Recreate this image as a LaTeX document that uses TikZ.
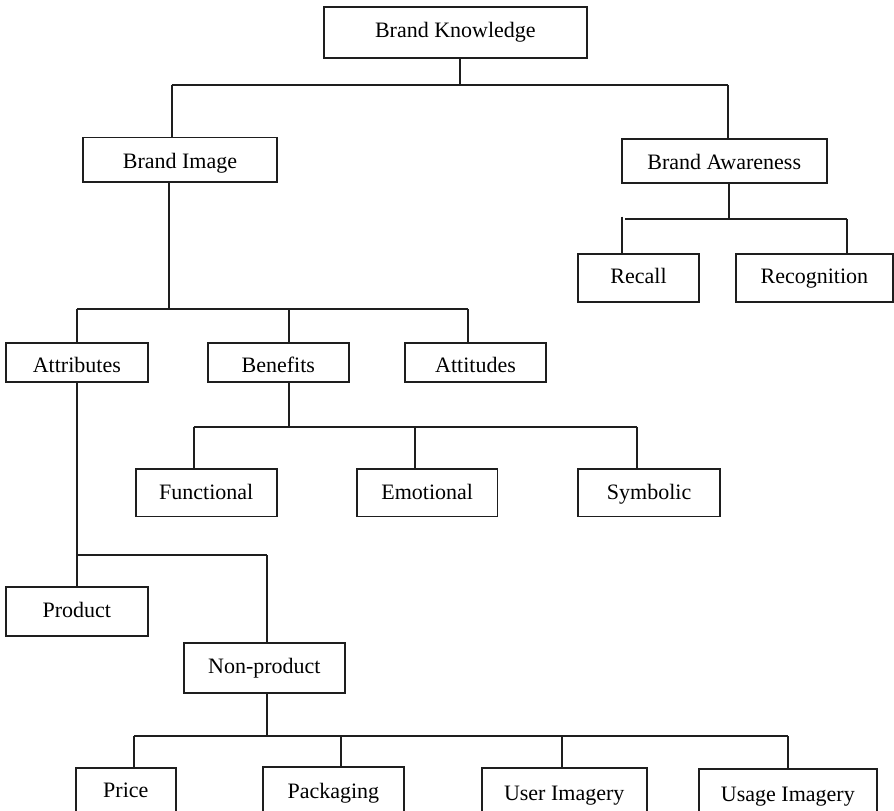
\documentclass[tikz,border=0pt]{standalone}
\usepackage{fontspec}
\setmainfont{Liberation Serif}
\definecolor{ink}{RGB}{30,30,30}
\tikzset{
  box/.style={draw=ink, line width=1.8pt, inner sep=0pt, fill=white,
    text=black, text depth=5pt,
    font=\fontsize{22}{26}\selectfont},
  link/.style={draw=ink, line width=1.8pt}
}
% name, x1, y1, x2, y2, text height, text
\newcommand\boxat[7]{%
  \node[box, text height=#6pt, minimum width={#4pt-#2pt}, minimum height={#5pt-#3pt}] (#1)
    at ({(#2+#4)/2},{(#3+#5)/2}) {#7};}
\begin{document}
\begin{tikzpicture}[x=1pt,y=-1pt]
\useasboundingbox (0,0) rectangle (894,811);
\clip (0,0) rectangle (894,811);
\fill[white] (0,0) rectangle (894,811);

% boxes
\boxat{bk}{324}{7}{586.7}{58}{14}{Brand Knowledge}
\boxat{bi}{83.3}{137.5}{276.7}{182.3}{21.8}{Brand Image}
\boxat{ba}{621.7}{139}{826.7}{183}{22.4}{Brand Awareness}
\boxat{rec}{578}{254}{699}{301.7}{16.8}{Recall}
\boxat{rcg}{735.7}{254}{893}{301.7}{16.8}{Recognition}
\boxat{att}{6}{343.3}{147.7}{382}{25.6}{Attributes}
\boxat{ben}{207.7}{343.3}{349}{382}{25.6}{Benefits}
\boxat{atd}{405}{343.3}{546}{382}{25.6}{Attitudes}
\boxat{fun}{135.7}{469.3}{276.7}{516.5}{17.6}{Functional}
\boxat{emo}{357}{469.3}{497.5}{516.5}{17.6}{Emotional}
\boxat{sym}{578.3}{469.3}{720}{516.5}{17.6}{Symbolic}
\boxat{pro}{6}{586.7}{147.7}{636}{16.8}{Product}
\boxat{npr}{183.7}{642.7}{345}{692.7}{16.2}{Non-product}
\boxat{pri}{75.7}{767.7}{176}{817}{15.3}{Price}
\boxat{pac}{262.7}{767.3}{404}{819.3}{15}{Packaging}
\boxat{usr}{481.7}{768}{646.7}{822}{15}{User Imagery}
\boxat{usg}{699}{769.3}{876.7}{822.7}{15}{Usage Imagery}

% level 1: Brand Knowledge
\coordinate (k0) at (460,85);
\coordinate (kL) at (171.7,85);
\coordinate (kR) at (727.7,85);
\draw[link] (bk.south -| k0) -- (k0);
\draw[link] (kL) -- (kR);
\draw[link] (kL) -- (kL |- bi.north);
\draw[link] (kR) -- (kR |- ba.north);

% Brand Awareness
\coordinate (a0) at (729,219);
\coordinate (aH) at (625,219);
\coordinate (aL) at (621.7,216.7);
\coordinate (aR) at (846.7,219);
\draw[link] (ba.south -| a0) -- (a0);
\draw[link] (aH) -- (aR);
\draw[link] (aL) -- (aL |- rec.north);
\draw[link] (aR) -- (aR |- rcg.north);

% Brand Image
\coordinate (i0) at (169,309.3);
\coordinate (iL) at (76.8,309.3);
\coordinate (iM) at (289.3,309.3);
\coordinate (iR) at (468,309.3);
\draw[link] (bi.south -| i0) -- (i0);
\draw[link] (iL) -- (iR);
\draw[link] (iL) -- (iL |- att.north);
\draw[link] (iM) -- (iM |- ben.north);
\draw[link] (iR) -- (iR |- atd.north);

% Benefits
\coordinate (e0) at (289.3,426.7);
\coordinate (eL) at (193.6,426.7);
\coordinate (eM) at (415,426.7);
\coordinate (eR) at (636.7,426.7);
\draw[link] (ben.south -| e0) -- (e0);
\draw[link] (eL) -- (eR);
\draw[link] (eL) -- (eL |- fun.north);
\draw[link] (eM) -- (eM |- emo.north);
\draw[link] (eR) -- (eR |- sym.north);

% Attributes
\coordinate (t0) at (76.8,555);
\coordinate (tR) at (266.7,555);
\draw[link] (att.south -| t0) -- (t0);
\draw[link] (t0) -- (tR);
\draw[link] (t0) -- (t0 |- pro.north);
\draw[link] (tR) -- (tR |- npr.north);

% Non-product
\coordinate (n0) at (266.7,736);
\coordinate (n1) at (134.3,736);
\coordinate (n2) at (340.7,736);
\coordinate (n3) at (561.7,736);
\coordinate (n4) at (788.3,736);
\draw[link] (npr.south -| n0) -- (n0);
\draw[link] (n1) -- (n4);
\draw[link] (n1) -- (n1 |- pri.north);
\draw[link] (n2) -- (n2 |- pac.north);
\draw[link] (n3) -- (n3 |- usr.north);
\draw[link] (n4) -- (n4 |- usg.north);
\end{tikzpicture}
\end{document}
